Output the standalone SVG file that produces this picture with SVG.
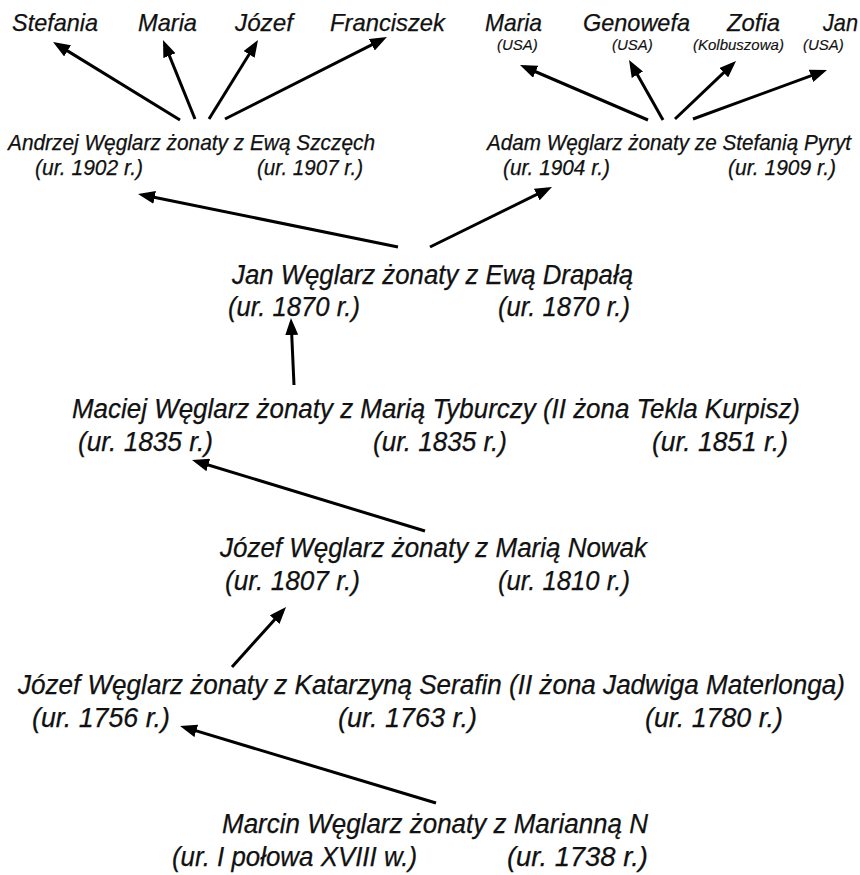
<svg xmlns="http://www.w3.org/2000/svg" width="860" height="875" viewBox="0 0 860 875">
  <style>
    text { font-family: "Liberation Sans", Arial, Helvetica, sans-serif; font-style: italic; fill: #111; stroke: #111; stroke-width: 0.25px; }
    .child { font-size: 24px; }
    .place { font-size: 15px; stroke-width: 0.15px; }
    .couple2 { font-size: 21.5px; }
    .couple { font-size: 27px; }
    .link { stroke: #000; stroke-width: 3; fill: none; marker-end: url(#head); }
  </style>
  <defs>
    <marker id="head" markerUnits="userSpaceOnUse" viewBox="0 0 17 13" markerWidth="17" markerHeight="13" refX="12" refY="6.5" orient="auto">
      <path d="M0,0 L17,6.5 L0,13 z" fill="#000"/>
    </marker>
  </defs>
  <rect width="860" height="875" fill="#fff"/>

  <!-- children of Andrzej -->
  <g id="stefania"><text class="child" x="12" y="31" textLength="86" lengthAdjust="spacingAndGlyphs">Stefania</text></g>
  <g id="maria-a"><text class="child" x="138" y="31" textLength="59" lengthAdjust="spacingAndGlyphs">Maria</text></g>
  <g id="jozef-a"><text class="child" x="235" y="31" textLength="58" lengthAdjust="spacingAndGlyphs">Józef</text></g>
  <g id="franciszek"><text class="child" x="330" y="31" textLength="115" lengthAdjust="spacingAndGlyphs">Franciszek</text></g>

  <!-- children of Adam -->
  <g id="maria-b"><text class="child" x="485" y="31" textLength="57" lengthAdjust="spacingAndGlyphs">Maria</text><text class="place" x="497" y="50">(USA)</text></g>
  <g id="genowefa"><text class="child" x="583" y="31" textLength="107" lengthAdjust="spacingAndGlyphs">Genowefa</text><text class="place" x="612" y="50">(USA)</text></g>
  <g id="zofia"><text class="child" x="727" y="31" textLength="53" lengthAdjust="spacingAndGlyphs">Zofia</text><text class="place" x="693" y="50">(Kolbuszowa)</text></g>
  <g id="jan-b"><text class="child" x="823" y="31" textLength="35" lengthAdjust="spacingAndGlyphs">Jan</text><text class="place" x="803" y="50">(USA)</text></g>

  <!-- generation 1900s -->
  <g id="andrzej">
    <text class="couple2" x="8" y="150" textLength="367" lengthAdjust="spacingAndGlyphs">Andrzej Węglarz żonaty z Ewą Szczęch</text>
    <text class="couple2" x="35" y="175" textLength="108" lengthAdjust="spacingAndGlyphs">(ur. 1902 r.)</text>
    <text class="couple2" x="257" y="175" textLength="106" lengthAdjust="spacingAndGlyphs">(ur. 1907 r.)</text>
  </g>
  <g id="adam">
    <text class="couple2" x="487" y="150" textLength="364" lengthAdjust="spacingAndGlyphs">Adam Węglarz żonaty ze Stefanią Pyryt</text>
    <text class="couple2" x="503" y="175" textLength="107" lengthAdjust="spacingAndGlyphs">(ur. 1904 r.)</text>
    <text class="couple2" x="728" y="175" textLength="108" lengthAdjust="spacingAndGlyphs">(ur. 1909 r.)</text>
  </g>

  <!-- Jan -->
  <g id="jan">
    <text class="couple" x="232" y="284" textLength="401" lengthAdjust="spacingAndGlyphs">Jan Węglarz żonaty z Ewą Drapałą</text>
    <text class="couple" x="228" y="316" textLength="132" lengthAdjust="spacingAndGlyphs">(ur. 1870 r.)</text>
    <text class="couple" x="498" y="316" textLength="132" lengthAdjust="spacingAndGlyphs">(ur. 1870 r.)</text>
  </g>

  <!-- Maciej -->
  <g id="maciej">
    <text class="couple" x="72" y="418" textLength="728" lengthAdjust="spacingAndGlyphs">Maciej Węglarz żonaty z Marią Tyburczy (II żona Tekla Kurpisz)</text>
    <text class="couple" x="78" y="451" textLength="135" lengthAdjust="spacingAndGlyphs">(ur. 1835 r.)</text>
    <text class="couple" x="373" y="451" textLength="134" lengthAdjust="spacingAndGlyphs">(ur. 1835 r.)</text>
    <text class="couple" x="652" y="451" textLength="136" lengthAdjust="spacingAndGlyphs">(ur. 1851 r.)</text>
  </g>

  <!-- Józef (1807) -->
  <g id="jozef-1807">
    <text class="couple" x="220" y="557" textLength="427" lengthAdjust="spacingAndGlyphs">Józef Węglarz żonaty z Marią Nowak</text>
    <text class="couple" x="225" y="590" textLength="135" lengthAdjust="spacingAndGlyphs">(ur. 1807 r.)</text>
    <text class="couple" x="498" y="590" textLength="132" lengthAdjust="spacingAndGlyphs">(ur. 1810 r.)</text>
  </g>

  <!-- Józef (1756) -->
  <g id="jozef-1756">
    <text class="couple" x="18" y="694" textLength="827" lengthAdjust="spacingAndGlyphs">Józef Węglarz żonaty z Katarzyną Serafin (II żona Jadwiga Materlonga)</text>
    <text class="couple" x="32" y="727" textLength="138" lengthAdjust="spacingAndGlyphs">(ur. 1756 r.)</text>
    <text class="couple" x="338" y="727" textLength="139" lengthAdjust="spacingAndGlyphs">(ur. 1763 r.)</text>
    <text class="couple" x="645" y="727" textLength="138" lengthAdjust="spacingAndGlyphs">(ur. 1780 r.)</text>
  </g>

  <!-- Marcin -->
  <g id="marcin">
    <text class="couple" x="222" y="833" textLength="426" lengthAdjust="spacingAndGlyphs">Marcin Węglarz żonaty z Marianną N</text>
    <text class="couple" x="172" y="866" textLength="245" lengthAdjust="spacingAndGlyphs">(ur. I połowa XVIII w.)</text>
    <text class="couple" x="507" y="866" textLength="141" lengthAdjust="spacingAndGlyphs">(ur. 1738 r.)</text>
  </g>

  <!-- descent arrows -->
  <g id="connectors">
    <line class="link" x1="180" y1="120" x2="57.3" y2="44.6"/>
    <line class="link" x1="195" y1="119" x2="164.9" y2="44.6"/>
    <line class="link" x1="209" y1="119" x2="255.4" y2="44.2"/>
    <line class="link" x1="225" y1="119" x2="382.5" y2="39.3"/>
    <line class="link" x1="648" y1="120" x2="524.6" y2="67"/>
    <line class="link" x1="663" y1="120" x2="631.5" y2="64.3"/>
    <line class="link" x1="675" y1="119" x2="732.4" y2="64.4"/>
    <line class="link" x1="693" y1="119" x2="822.3" y2="71.7"/>
    <line class="link" x1="398" y1="247" x2="142.9" y2="195"/>
    <line class="link" x1="430" y1="247" x2="547.5" y2="189.2"/>
    <line class="link" x1="294" y1="385" x2="291.2" y2="323"/>
    <line class="link" x1="425" y1="531" x2="196.8" y2="461.5"/>
    <line class="link" x1="232" y1="667" x2="282.7" y2="610.7"/>
    <line class="link" x1="436" y1="803" x2="184.8" y2="727.4"/>
  </g>
</svg>
